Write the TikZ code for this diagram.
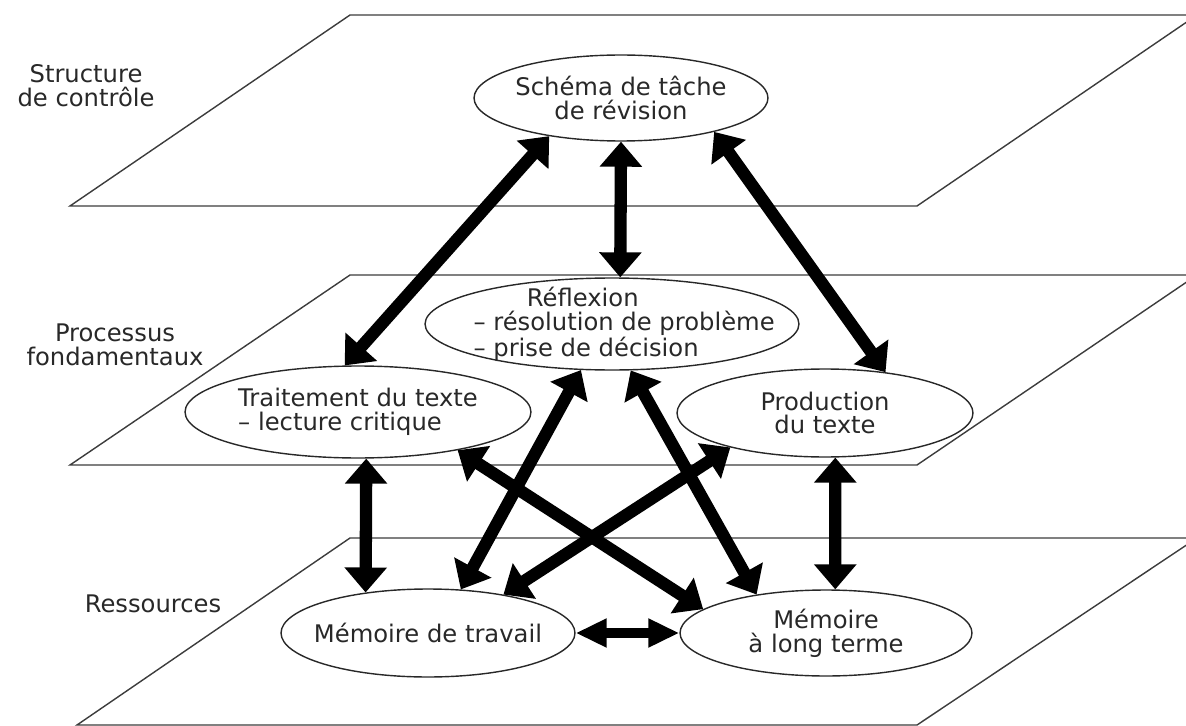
\documentclass[tikz,border=0pt]{standalone}
\usepackage{fontspec}
\setmainfont{DejaVu Sans}
\usetikzlibrary{arrows.meta,shapes.geometric}
\definecolor{planeline}{RGB}{60,60,60}
\definecolor{inkgray}{RGB}{40,40,40}

\begin{document}
\begin{tikzpicture}[x=0.02cm, y=-0.02cm,
      plane/.style={draw=planeline, line width=0.8pt},
      bubble/.style={ellipse, draw=inkgray, fill=white, line width=0.8pt, inner xsep=-1.2cm, inner ysep=-3pt, text=inkgray, font=\fontsize{13.8}{13.6}\selectfont},
      level/.style={align=center, text=inkgray, font=\fontsize{13.8}{13.6}\selectfont},
      link/.style={line width=7pt, {Triangle[length=0.5cm,width=0.82cm]}-{Triangle[length=0.5cm,width=0.82cm]}},
      shortlink/.style={line width=5.6pt, {Triangle[length=0.62cm,width=0.54cm]}-{Triangle[length=0.62cm,width=0.54cm]}}
    ]
      \clip (0,0) rectangle (1186,726);

      \draw[plane] (70,206) -- (917,206) -- (1197,15) -- (350,15) -- cycle;
      \draw[plane] (70,465) -- (917,465) -- (1197,275) -- (350,275) -- cycle;
      \draw[plane] (77,725) -- (917,725) -- (1197,538) -- (350,538) -- cycle;

      \node[level] (lvlcontrol) at (86,86) {Structure\\de contrôle};
      \node[level] (lvlprocess) at (115,345) {Processus\\fondamentaux};
      \node[level] (lvlresource) at (153,604) {Ressources};

      \node[bubble, minimum width=5.88cm, minimum height=1.72cm, align=center] (schema) at (621,98) {Schéma de tâche\\de révision};
      \node[bubble, minimum width=7.48cm, minimum height=1.84cm, align=left] (reflexion) at (612,324) {\hspace*{3.2em}Réflexion\\\hspace*{1em}– résolution de problème\\\hspace*{1em}– prise de décision};
      \node[bubble, minimum width=6.92cm, minimum height=1.84cm, align=left] (traitement) at (358,412) {Traitement du texte\\– lecture critique};
      \node[bubble, minimum width=5.92cm, minimum height=1.76cm, align=center] (production) at (825,413) {Production\\du texte};
      \node[bubble, minimum width=5.88cm, minimum height=1.76cm, align=center] (travail) at (428,633) {Mémoire de travail};
      \node[bubble, minimum width=5.84cm, minimum height=1.72cm, align=center] (longterme) at (826,633) {Mémoire\\à long terme};

      \draw[link] (schema.208) -- (traitement.106);
      \draw[link] (schema.south) -- (reflexion.80);
      \draw[link] (schema.340) -- (production.34);
      \draw[link] (traitement.280) -- (travail.147);
      \draw[link] (reflexion.236) -- (travail.53);
      \draw[link] (reflexion.292) -- (longterme.151);
      \draw[link] (traitement.339) -- (longterme.169);
      \draw[link] (production.200) -- (travail.27);
      \draw[link] (production.283) -- (longterme.78);
      \draw[shortlink] (travail.east) -- (longterme.west);
    \end{tikzpicture}
\end{document}
